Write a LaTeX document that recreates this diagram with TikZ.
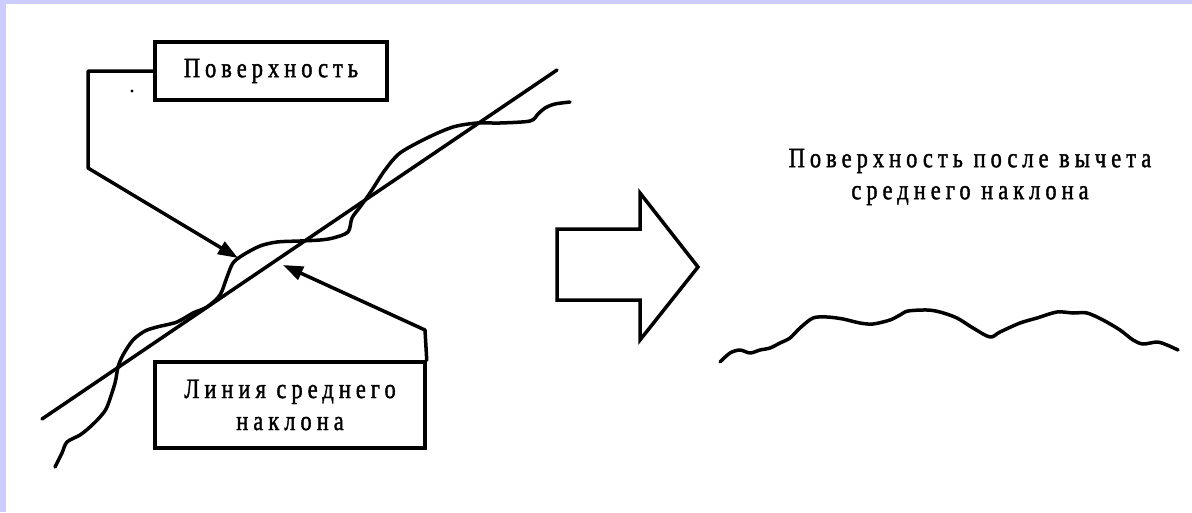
\documentclass[tikz,border=0pt]{standalone}
\usepackage{fontspec}
\setmainfont{Liberation Serif}[FakeStretch=0.8,LetterSpace=18,FakeBold=1.4]
\usetikzlibrary{arrows.meta}
\definecolor{lav}{RGB}{204,204,255}
\tikzset{
  ink/.style={line width=3.5pt, line join=round, line cap=round},
  labelbox/.style={draw, line width=3.5pt, inner sep=0pt, align=center,
    font=\fontsize{28pt}{32pt}\selectfont},
  plain/.style={inner sep=0pt, align=center, font=\fontsize{28pt}{32pt}\selectfont},
  leader/.style={ink, -{Triangle[length=20pt,width=14pt]}}
}
\begin{document}
\begin{tikzpicture}[x=1pt,y=-1pt]
\useasboundingbox (0,0) rectangle (1192,512);
\fill[lav] (0,0) rectangle (1192,512);
\fill[white] (6,4) rectangle (1192,512);

% labels
\node[labelbox, minimum width=232pt, minimum height=58pt] (b1) at (271,71) {Поверхность};
\node[labelbox, minimum width=270pt, minimum height=86pt] (b2) at (290,405) {Линия среднего\\наклона};
\node[plain] (t3) at (970,177) {Поверхность после вычета\\среднего наклона};

% speck
\fill (132,91) circle (1.6pt);

% mean slope line
\coordinate (m1) at (42,419);
\coordinate (m2) at (557,70);
\draw[ink] (m1) -- (m2);

% surface profile
\draw[ink] plot[smooth, tension=0.5] coordinates {
 (55,467) (62,453) (67,442) (80,435) (90,427) (100,417) (107,407)
 (115,383) (118,367) (123,355) (133,340) (145,331) (157,327) (177,322)
 (193,313) (207,307) (220,295) (227,277) (233,263) (243,255) (260,246)
 (277,242) (300,241) (320,240) (333,238) (348,232) (352,218) (360,207)
 (370,193) (385,170) (400,153) (427,138) (453,127) (477,123) (500,123)
 (530,121) (538,114) (545,108) (555,104) (570,102)};

% leaders
\coordinate (c1) at (88,71);
\coordinate (c2) at (88,168);
\coordinate (p1) at (238,258);
\draw[leader] (b1.west) -- (c1) -- (c2) -- (p1);
\coordinate (c3) at (425,330);
\coordinate (p2) at (283,265);
\draw[leader] (b2.north east) -- (c3) -- (p2);

% big arrow
\draw[ink, line join=miter] (557,229) -- (640,229) -- (640,193) -- (698,267)
  -- (640,340) -- (640,300) -- (557,300) -- cycle;

% surface after subtraction
\draw[ink] plot[smooth, tension=0.5] coordinates {
 (720,362) (730,353) (740,350) (750,353) (760,350) (770,348) (780,343)
 (790,338) (800,328) (813,318) (827,317) (843,319) (860,323) (873,324)
 (890,320) (900,315) (908,311) (927,310) (940,312) (957,318) (973,328)
 (990,337) (1000,332) (1020,323) (1037,318) (1057,312) (1073,313)
 (1087,313) (1103,320) (1120,330) (1133,340) (1143,344) (1157,342)
 (1167,345) (1178,350)};
\end{tikzpicture}
\end{document}
